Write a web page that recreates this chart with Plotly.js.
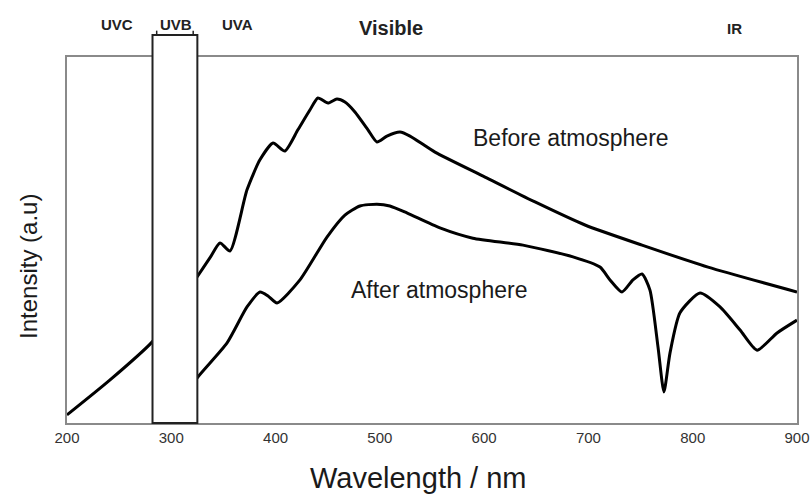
<!DOCTYPE html>
<html>
<head>
<meta charset="utf-8">
<script src="https://cdn.plot.ly/plotly-3.0.1.min.js"></script>
<style>html,body{margin:0;padding:0;background:#fff;}#chart{width:812px;height:495px;}</style>
</head>
<body>
<div id="chart"></div>
<script>
// Wavelength (nm) and intensity (a.u., 0-100)
const beforeWavelength = [200, 241, 281.5, 300, 324.7, 337, 346.7, 356.3, 372.6, 385, 397.6, 408.9, 421.4, 432.9, 440.6, 450.2, 458.8, 466.5, 476.1, 488.6, 497.2, 506.8, 519.3, 528.9, 552.9, 600.8, 648.8, 696.7, 751.4, 814.7, 900];
const beforeIntensity  = [2.2, 11.7, 22.1, 29, 39.9, 45.1, 49.2, 47.0, 63.7, 71.9, 76.5, 74.3, 80.1, 85.5, 88.8, 87.4, 88.5, 87.7, 85.0, 80.1, 76.8, 78.4, 79.5, 78.4, 74.0, 67.2, 60.4, 54.1, 48.6, 42.6, 35.8];

const afterWavelength = [300, 310, 324.7, 353.5, 372.6, 385.1, 392.8, 401.4, 423.4, 449.3, 466.5, 480.9, 497.2, 509.6, 525.9, 557.6, 589.2, 637.2, 685.2, 711.1, 720.7, 732.2, 742.7, 751.4, 759.0, 766.7, 772.4, 778.2, 787.8, 807.0, 826.2, 845.4, 861.7, 880.9, 900];
const afterIntensity  = [2, 6, 12.3, 21.9, 31.7, 35.8, 34.7, 32.8, 39.1, 50.8, 56.8, 59.3, 59.8, 59.3, 57.4, 53.3, 50.5, 48.6, 45.4, 42.6, 39.1, 35.8, 39.1, 40.7, 36.3, 20.8, 8.5, 19.1, 30.1, 35.5, 31.7, 25.4, 19.9, 24.6, 28.1];

const tickValues = [200, 300, 400, 500, 600, 700, 800, 900];
const tickLabels = ["200", "300", "400", "500", "600", "700", "800", "900"];

const uvbBand = [282, 325];
const bandNames = ["UVC", "UVB", "UVA", "Visible", "IR"];
const bandLabelX = [0.068, 0.149, 0.233, 0.444, 0.914];
const bandLabelY = [1.088, 1.088, 1.088, 1.079, 1.077];
const bandLabelSize = [15, 15, 15, 20, 15];

const curveNames = ["Before atmosphere", "After atmosphere"];
const xTitle = "Wavelength / nm";
const yTitle = "Intensity (a.u)";

const lineStyle = {color: '#000', width: 3, shape: 'spline', smoothing: 0.6};

const traces = [
  {x: beforeWavelength, y: beforeIntensity, mode: 'lines', line: lineStyle, name: curveNames[0], hoverinfo: 'skip'},
  {x: afterWavelength, y: afterIntensity, mode: 'lines', line: lineStyle, name: curveNames[1], hoverinfo: 'skip'}
];

const bandAnnotations = bandNames.map((t, i) => ({
  text: '<b>' + t + '</b>', xref: 'paper', yref: 'paper', x: bandLabelX[i], y: bandLabelY[i],
  showarrow: false, xanchor: 'center', yanchor: 'middle',
  font: {family: 'Liberation Sans, Arial, sans-serif', size: bandLabelSize[i], color: '#222'}
}));

const textFont = (s) => ({family: 'Liberation Sans, Arial, sans-serif', size: s, color: '#1a1a1a'});

const layout = {
  width: 812, height: 495,
  margin: {l: 67, r: 15, t: 57, b: 72},
  paper_bgcolor: '#fff', plot_bgcolor: '#fff',
  showlegend: false,
  xaxis: {
    range: [200, 900], tickvals: tickValues, ticktext: tickLabels,
    showgrid: false, zeroline: false, showline: true, mirror: true,
    linecolor: '#8a8a8a', linewidth: 2, ticks: '',
    tickfont: {family: 'Liberation Sans, Arial, sans-serif', size: 15, color: '#333'}
  },
  yaxis: {
    range: [0, 100], showticklabels: false, showgrid: false, zeroline: false,
    showline: true, mirror: true, linecolor: '#8a8a8a', linewidth: 2, ticks: ''
  },
  shapes: [
    {type: 'rect', xref: 'x', yref: 'paper', x0: uvbBand[0], x1: uvbBand[1], y0: 0, y1: 1.06,
     line: {color: '#222', width: 2}, fillcolor: '#fff', layer: 'above'},
    {type: 'line', xref: 'x', yref: 'paper', x0: uvbBand[0] + 4, x1: uvbBand[0] + 4, y0: 1.06, y1: 1.072, line: {color: '#222', width: 1.5}},
    {type: 'line', xref: 'x', yref: 'paper', x0: uvbBand[1] - 4, x1: uvbBand[1] - 4, y0: 1.06, y1: 1.072, line: {color: '#222', width: 1.5}}
  ],
  annotations: bandAnnotations.concat([
    {text: curveNames[0], x: 683, y: 77.9, xref: 'x', yref: 'y', showarrow: false, font: textFont(23)},
    {text: curveNames[1], x: 557, y: 36.3, xref: 'x', yref: 'y', showarrow: false, font: textFont(23)},
    {text: xTitle, xref: 'paper', yref: 'paper', x: (418 - 67) / 730, y: (423 - 478) / 366,
     showarrow: false, xanchor: 'center', yanchor: 'middle', font: textFont(29)},
    {text: yTitle, xref: 'paper', yref: 'paper', x: (28 - 67) / 730, y: (423 - 267) / 366,
     showarrow: false, xanchor: 'center', yanchor: 'middle', textangle: -90, font: textFont(24)}
  ])
};

Plotly.newPlot('chart', traces, layout, {displayModeBar: false, staticPlot: true});
</script>
</body>
</html>
